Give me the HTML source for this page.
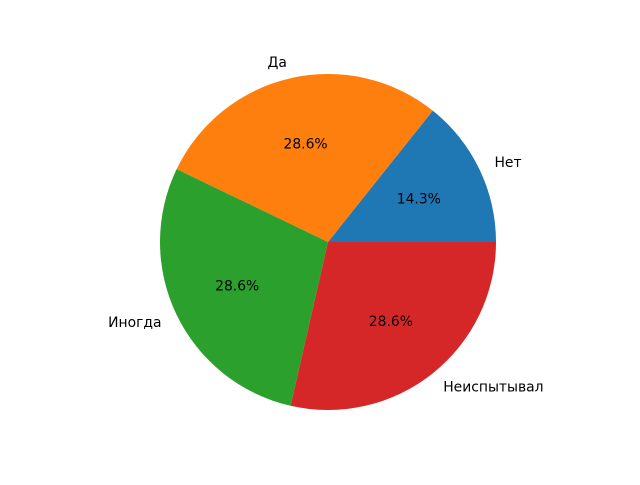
<!DOCTYPE html>
<html><head><meta charset="utf-8">
<style>
html,body{margin:0;padding:0;background:#fff;}
svg text{font-family:"DejaVu Sans","Liberation Sans",sans-serif;font-size:13.9px;fill:#000;}
</style></head>
<body>
<svg id="chart" width="640" height="480" viewBox="0 0 640 480" xmlns="http://www.w3.org/2000/svg"></svg>
<script>
const categories = ["Нет", "Да", "Иногда", "Неиспытывал"];
const values = [1, 2, 2, 2];
const colors = ["#1f77b4", "#ff7f0e", "#2ca02c", "#d62728"];

const svg = document.getElementById('chart');
const NS = "http://www.w3.org/2000/svg";
const cx = 328, cy = 242, r = 168;
const total = values.reduce((a, b) => a + b, 0);
let start = 0;
function pt(angDeg, rad) {
  const a = angDeg * Math.PI / 180;
  return [cx + rad * Math.cos(a), cy - rad * Math.sin(a)];
}
values.forEach((v, i) => {
  const sweep = v / total * 360;
  const end = start + sweep;
  const [x1, y1] = pt(start, r);
  const [x2, y2] = pt(end, r);
  const large = sweep > 180 ? 1 : 0;
  const p = document.createElementNS(NS, 'path');
  p.setAttribute('d', `M${cx},${cy} L${x1},${y1} A${r},${r} 0 ${large} 0 ${x2},${y2} Z`);
  p.setAttribute('fill', colors[i]);
  
  
  svg.appendChild(p);

  const mid = start + sweep / 2;
  const [lx, ly] = pt(mid, r * 1.1);
  const t = document.createElementNS(NS, 'text');
  t.setAttribute('x', lx);
  t.setAttribute('y', ly + 1);
  t.setAttribute('text-anchor', lx >= cx ? 'start' : 'end');
  t.setAttribute('dominant-baseline', 'central');
  t.textContent = categories[i];
  
  
  svg.appendChild(t);

  const [px, py] = pt(mid, r * 0.6);
  const tp = document.createElementNS(NS, 'text');
  tp.setAttribute('x', px);
  tp.setAttribute('y', py + 1);
  tp.setAttribute('text-anchor', 'middle');
  tp.setAttribute('dominant-baseline', 'central');
  tp.textContent = (v / total * 100).toFixed(1) + '%';
  
  
  svg.appendChild(tp);

  start = end;
});
</script>
</body></html>
